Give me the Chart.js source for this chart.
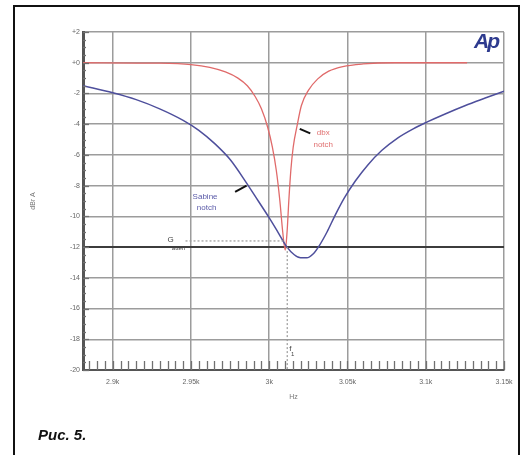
<!DOCTYPE html>
<html>
<head>
<meta charset="utf-8">
<script src="https://cdn.jsdelivr.net/npm/chart.js@4/dist/chart.umd.min.js"></script>
<style>
  body { margin: 0; background: #fff; width: 522px; height: 455px; overflow: hidden; position: relative; font-family: Arial, "Liberation Sans", sans-serif; }
  #frame { position: absolute; left: 13px; top: 5px; width: 503px; height: 480px; border: 2px solid #111; }
  #graf { position: absolute; left: 0; top: 0; }
  #cap { position: absolute; left: 38px; top: 426px; font: italic bold 15px Arial, "Liberation Sans", sans-serif; color: #111; }
  #logo { position: absolute; left: 474px; top: 29px; font: italic bold 21px Arial, "Liberation Sans", sans-serif; color: #2d3a8e; letter-spacing: -2px; }
</style>
</head>
<body>
<div id="frame"></div>
<canvas id="graf" width="522" height="455"></canvas>
<div id="logo">Ap</div>
<div id="cap">Рис. 5.</div>
<script>
// frecuencias en kHz, niveles en dB
const freqAzul = [2.881, 2.900, 2.915, 2.930, 2.945, 2.955, 2.965, 2.975, 2.985, 2.993, 3.000, 3.006, 3.011, 3.016, 3.020, 3.024, 3.028, 3.032, 3.037, 3.042, 3.048, 3.055, 3.063, 3.072, 3.082, 3.092, 3.101, 3.112, 3.125, 3.138, 3.150];
const dbAzul = [-1.5, -1.95, -2.4, -3.0, -3.75, -4.4, -5.25, -6.3, -7.75, -9.0, -10.1, -11.1, -11.95, -12.5, -12.7, -12.7, -12.45, -11.9, -11.0, -9.95, -8.8, -7.7, -6.65, -5.7, -4.9, -4.3, -3.85, -3.35, -2.8, -2.3, -1.85];

const freqRojo = [2.881, 2.930, 2.950, 2.962, 2.972, 2.980, 2.986, 2.991, 2.995, 2.999, 3.002, 3.0045, 3.0068, 3.0086, 3.0102, 3.0114, 3.0125, 3.0138, 3.0153, 3.0178, 3.0205, 3.025, 3.031, 3.038, 3.047, 3.060, 3.080, 3.1264];
const dbRojo = [0, -0.03, -0.12, -0.3, -0.6, -1.0, -1.5, -2.2, -3.0, -4.2, -5.5, -7.0, -9.0, -11.0, -12.2, -11.0, -9.0, -7.0, -5.5, -4.1, -2.8, -1.8, -1.05, -0.55, -0.25, -0.08, 0, 0];

// lineas punteadas de referencia
const freqGuiaH = [2.9465, 3.0095];
const dbGuiaH = [-11.6, -11.6];
const freqGuiaV = [3.0115, 3.0115];
const dbGuiaV = [-12.0, -20];

const ticksX = [2.9, 2.95, 3.0, 3.05, 3.1, 3.15];
const etiquetasX = ['2.9k', '2.95k', '3k', '3.05k', '3.1k', '3.15k'];
const ticksY = [2, 0, -2, -4, -6, -8, -10, -12, -14, -16, -18, -20];
const etiquetasY = ['+2', '+0', '-2', '-4', '-6', '-8', '-10', '-12', '-14', '-16', '-18', '-20'];

const juntar = (xs, ys) => xs.map((x, i) => ({ x: x, y: ys[i] }));

// dibuja marcas menores y los textos del grafico
const extras = {
  id: 'extras',
  afterDatasetsDraw(chart) {
    const c = chart.ctx;
    const sx = chart.scales.x, sy = chart.scales.y;
    const area = chart.chartArea;
    c.save();
    c.strokeStyle = '#707070';
    c.lineWidth = 1.3;
    for (let k = 0; k <= 53; k++) {
      const px = Math.round(sx.getPixelForValue(2.885 + k * 0.005)) + 0.5;
      c.beginPath(); c.moveTo(px, area.bottom); c.lineTo(px, area.bottom - 9); c.stroke();
    }
    for (let k = 0; k <= 44; k++) {
      const py = Math.round(sy.getPixelForValue(-20 + k * 0.5)) + 0.5;
      c.beginPath(); c.moveTo(area.left, py); c.lineTo(area.left + (k % 4 === 0 ? 6 : 3), py); c.stroke();
    }
    // punteros
    c.strokeStyle = '#111';
    c.lineWidth = 2;
    c.beginPath();
    c.moveTo(sx.getPixelForValue(2.9782), sy.getPixelForValue(-8.4));
    c.lineTo(sx.getPixelForValue(2.9855), sy.getPixelForValue(-8.0));
    c.stroke();
    c.beginPath();
    c.moveTo(sx.getPixelForValue(3.0195), sy.getPixelForValue(-4.3));
    c.lineTo(sx.getPixelForValue(3.0262), sy.getPixelForValue(-4.6));
    c.stroke();
    // textos
    c.textAlign = 'center';
    c.textBaseline = 'middle';
    c.font = '8px Arial';
    c.fillStyle = '#5a5aa8';
    c.fillText('Sabine', sx.getPixelForValue(2.9590), sy.getPixelForValue(-8.7));
    c.fillText('notch', sx.getPixelForValue(2.9600), sy.getPixelForValue(-9.45));
    c.fillStyle = '#e07070';
    c.fillText('dbx', sx.getPixelForValue(3.0345), sy.getPixelForValue(-4.55));
    c.fillText('notch', sx.getPixelForValue(3.0345), sy.getPixelForValue(-5.35));
    c.fillStyle = '#444';
    c.font = '8px Arial';
    c.fillText('G', sx.getPixelForValue(2.9370), sy.getPixelForValue(-11.55));
    c.font = '6px Arial';
    c.fillText('atten', sx.getPixelForValue(2.9420), sy.getPixelForValue(-12.05));
    c.font = '8px Arial';
    c.fillText('f', sx.getPixelForValue(3.0135), sy.getPixelForValue(-18.6));
    c.font = '6px Arial';
    c.fillText('1', sx.getPixelForValue(3.0150), sy.getPixelForValue(-18.95));
    c.restore();
  }
};

new Chart(document.getElementById('graf'), {
  type: 'scatter',
  data: {
    datasets: [
      { data: juntar(freqGuiaH, dbGuiaH), showLine: true, borderColor: '#9a9a9a', borderWidth: 1.2, borderDash: [2, 2], pointRadius: 0 },
      { data: juntar(freqGuiaV, dbGuiaV), showLine: true, borderColor: '#9a9a9a', borderWidth: 1.2, borderDash: [2, 2], pointRadius: 0 },
      { data: juntar(freqAzul, dbAzul), showLine: true, borderColor: '#4e4f9c', borderWidth: 1.5, pointRadius: 0, cubicInterpolationMode: 'monotone' },
      { data: juntar(freqRojo, dbRojo), showLine: true, borderColor: '#e06a6a', borderWidth: 1.3, pointRadius: 0, cubicInterpolationMode: 'monotone' }
    ]
  },
  options: {
    responsive: false,
    animation: false,
    devicePixelRatio: 1,
    layout: { padding: { left: 25, right: 18, top: 32, bottom: 50 } },
    plugins: { legend: { display: false }, tooltip: { enabled: false } },
    scales: {
      x: {
        type: 'linear',
        min: 2.881,
        max: 3.15,
        afterBuildTicks: (s) => { s.ticks = ticksX.map(v => ({ value: v })); },
        afterFit: (s) => { s.height = 35; },
        ticks: {
          padding: 8,
          maxRotation: 0,
          autoSkip: false,
          color: '#666',
          font: { size: 7, family: 'Arial' },
          callback: (v) => etiquetasX[ticksX.findIndex(t => Math.abs(t - v) < 1e-6)]
        },
        grid: { color: '#9c9c9c', lineWidth: 1.5, drawTicks: false },
        border: { color: '#555', width: 2 },
        title: { display: true, text: 'Hz', color: '#777', font: { size: 7, family: 'Arial' }, padding: { top: 2, bottom: 4 } }
      },
      y: {
        min: -20,
        max: 2,
        afterBuildTicks: (s) => { s.ticks = ticksY.map(v => ({ value: v })); },
        afterFit: (s) => { s.width = 58; },
        ticks: {
          padding: 3,
          autoSkip: false,
          color: '#666',
          font: { size: 7, family: 'Arial' },
          callback: (v) => etiquetasY[ticksY.indexOf(v)]
        },
        grid: {
          color: (ctx) => ctx.tick && ctx.tick.value === -12 ? '#3c3c3c' : '#9c9c9c',
          lineWidth: (ctx) => ctx.tick && ctx.tick.value === -12 ? 2 : 1.5,
          drawTicks: false
        },
        border: { color: '#555', width: 3 },
        title: { display: true, text: 'dBr A', color: '#777', font: { size: 7, family: 'Arial' }, padding: { top: 4, bottom: 4 } }
      }
    }
  },
  plugins: [extras]
});
</script>
</body>
</html>
